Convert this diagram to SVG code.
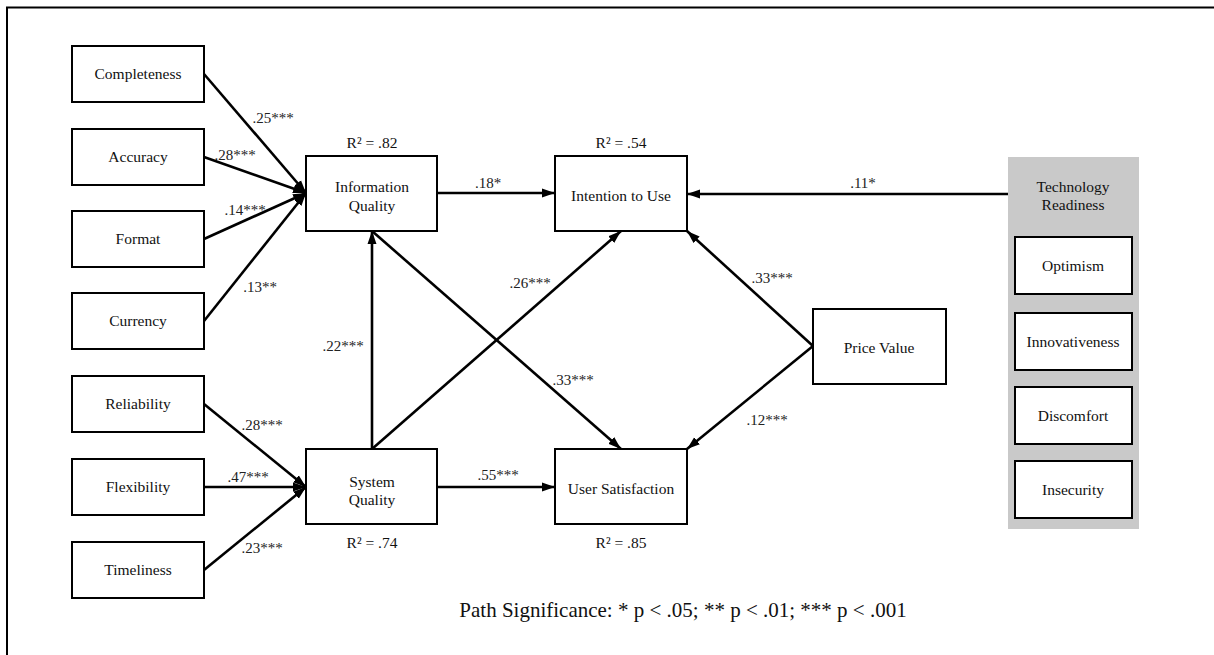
<svg xmlns="http://www.w3.org/2000/svg" width="1214" height="655" viewBox="0 0 1214 655">
<style>
text{font-family:"Liberation Serif","Times New Roman",serif;font-size:15.5px;fill:#111;text-anchor:middle}
.lbl{font-size:15px;fill:#222}
.box{fill:#fff;stroke:#000;stroke-width:2}
.edge{stroke:#000;stroke-width:2.6;fill:none}
</style>
<defs>
<marker id="ah" markerUnits="userSpaceOnUse" markerWidth="14" markerHeight="10" refX="13" refY="5" orient="auto">
<path d="M0,0.5 L13,5 L0,9.5 z" fill="#000"/>
</marker>
</defs>
<rect x="0" y="0" width="1214" height="655" fill="#fff"/>
<path d="M7,655 V7.5 H1214" fill="none" stroke="#000" stroke-width="2"/>

<g id="connectors">
<line class="edge" x1="204" y1="74" x2="306" y2="193" marker-end="url(#ah)"/>
<line class="edge" x1="204" y1="157" x2="306" y2="193" marker-end="url(#ah)"/>
<line class="edge" x1="204" y1="239" x2="306" y2="193" marker-end="url(#ah)"/>
<line class="edge" x1="204" y1="321" x2="306" y2="193" marker-end="url(#ah)"/>
<line class="edge" x1="204" y1="404" x2="306" y2="487" marker-end="url(#ah)"/>
<line class="edge" x1="204" y1="487" x2="306" y2="487" marker-end="url(#ah)"/>
<line class="edge" x1="204" y1="570" x2="306" y2="487" marker-end="url(#ah)"/>
<line class="edge" x1="437" y1="193" x2="555" y2="193" marker-end="url(#ah)"/>
<line class="edge" x1="372" y1="449" x2="372" y2="231" marker-end="url(#ah)"/>
<line class="edge" x1="372" y1="449" x2="621" y2="231" marker-end="url(#ah)"/>
<line class="edge" x1="372" y1="231" x2="621" y2="449" marker-end="url(#ah)"/>
<line class="edge" x1="437" y1="487" x2="555" y2="487" marker-end="url(#ah)"/>
<line class="edge" x1="813" y1="346" x2="687" y2="231" marker-end="url(#ah)"/>
<line class="edge" x1="813" y1="346" x2="687" y2="449" marker-end="url(#ah)"/>
<line class="edge" x1="1008" y1="194" x2="687" y2="194" marker-end="url(#ah)"/>
<text class="lbl" x="273" y="123">.25***</text>
<text class="lbl" x="235" y="160">.28***</text>
<text class="lbl" x="245" y="215">.14***</text>
<text class="lbl" x="260" y="292">.13**</text>
<text class="lbl" x="262" y="430">.28***</text>
<text class="lbl" x="248" y="482">.47***</text>
<text class="lbl" x="262" y="553">.23***</text>
<text class="lbl" x="488" y="188">.18*</text>
<text class="lbl" x="343" y="351">.22***</text>
<text class="lbl" x="530" y="288">.26***</text>
<text class="lbl" x="573" y="385">.33***</text>
<text class="lbl" x="498" y="480">.55***</text>
<text class="lbl" x="772" y="283">.33***</text>
<text class="lbl" x="767" y="425">.12***</text>
<text class="lbl" x="863" y="188">.11*</text>
</g>

<g id="completeness"><rect class="box" x="72" y="46" width="132" height="56"/><text x="138" y="79">Completeness</text></g>
<g id="accuracy"><rect class="box" x="72" y="129" width="132" height="56"/><text x="138" y="162">Accuracy</text></g>
<g id="format"><rect class="box" x="72" y="211" width="132" height="56"/><text x="138" y="244">Format</text></g>
<g id="currency"><rect class="box" x="72" y="293" width="132" height="56"/><text x="138" y="326">Currency</text></g>
<g id="reliability"><rect class="box" x="72" y="376" width="132" height="56"/><text x="138" y="409">Reliability</text></g>
<g id="flexibility"><rect class="box" x="72" y="459" width="132" height="56"/><text x="138" y="492">Flexibility</text></g>
<g id="timeliness"><rect class="box" x="72" y="542" width="132" height="56"/><text x="138" y="575">Timeliness</text></g>

<g id="information-quality"><rect class="box" x="306" y="156" width="131" height="75"/><text x="372" y="192">Information</text><text x="372" y="211">Quality</text><text x="372" y="148">R² = .82</text></g>
<g id="intention-to-use"><rect class="box" x="555" y="156" width="132" height="75"/><text x="621" y="201">Intention to Use</text><text x="621" y="148">R² = .54</text></g>
<g id="system-quality"><rect class="box" x="306" y="449" width="131" height="75"/><text x="372" y="487">System</text><text x="372" y="505">Quality</text><text x="372" y="548">R² = .74</text></g>
<g id="user-satisfaction"><rect class="box" x="555" y="449" width="132" height="75"/><text x="621" y="494">User Satisfaction</text><text x="621" y="548">R² = .85</text></g>
<g id="price-value"><rect class="box" x="813" y="309" width="133" height="75"/><text x="879" y="353">Price Value</text></g>

<g id="technology-readiness">
<rect x="1008" y="157" width="131" height="372" fill="#c9c9c9"/>
<text x="1073" y="192">Technology</text><text x="1073" y="210">Readiness</text>
<g id="optimism"><rect class="box" x="1015" y="237" width="117" height="57"/><text x="1073" y="271">Optimism</text></g>
<g id="innovativeness"><rect class="box" x="1015" y="313" width="117" height="57"/><text x="1073" y="347">Innovativeness</text></g>
<g id="discomfort"><rect class="box" x="1015" y="387" width="117" height="57"/><text x="1073" y="421">Discomfort</text></g>
<g id="insecurity"><rect class="box" x="1015" y="461" width="117" height="57"/><text x="1073" y="495">Insecurity</text></g>
</g>

<text x="683" y="617" style="font-size:21px">Path Significance: * p &lt; .05; ** p &lt; .01; *** p &lt; .001</text>
</svg>
